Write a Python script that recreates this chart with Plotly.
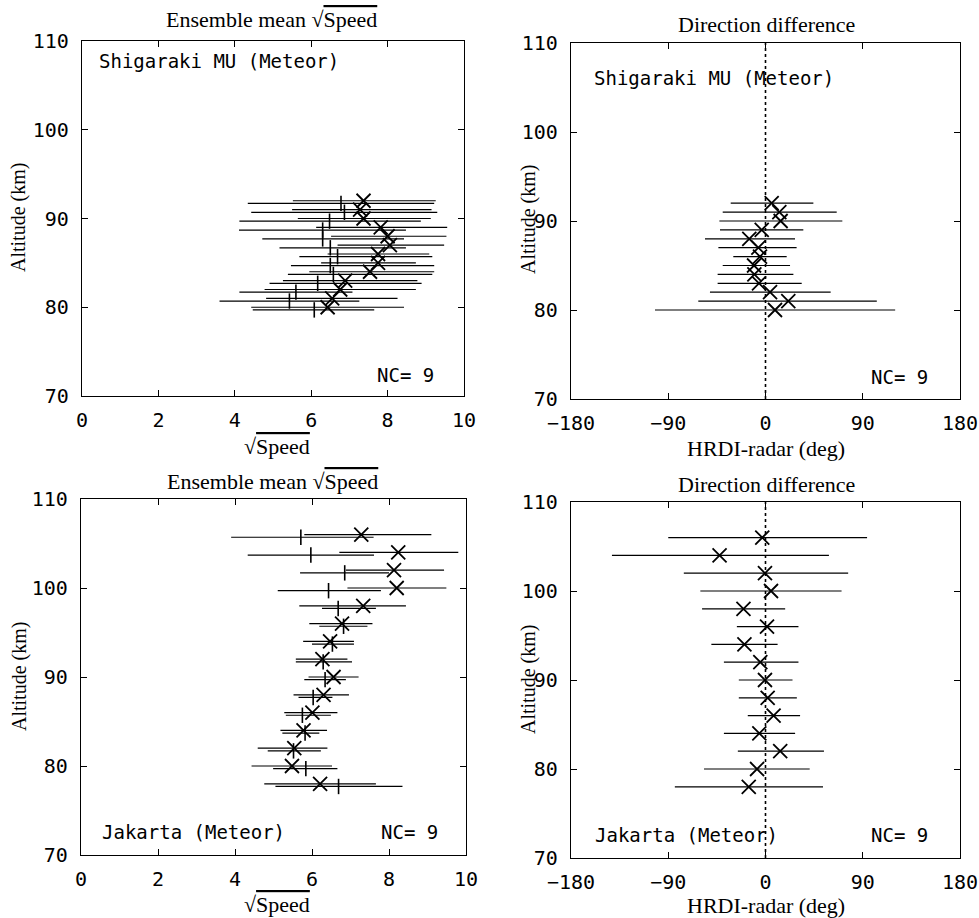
import plotly.graph_objects as go

W, H = 979, 918

# ---------------- data ----------------
# Shigaraki MU (Meteor) : sqrt(speed)
shi_alt = [92, 91, 90, 89, 88, 87, 86, 85, 84, 83, 82, 81, 80]
shi_x_mean = [7.37, 7.28, 7.37, 7.82, 8.00, 8.06, 7.75, 7.75, 7.54, 6.89, 6.76, 6.55, 6.43]
shi_x_lo = [5.52, 5.50, 5.65, 6.13, 6.52, 6.69, 6.43, 6.26, 5.95, 5.26, 4.78, 4.82, 4.43]
shi_x_hi = [9.26, 9.15, 9.13, 9.56, 9.54, 9.48, 9.09, 8.74, 9.22, 8.78, 8.74, 8.26, 8.43]
shi_t_mean = [6.78, 6.87, 6.48, 6.30, 6.30, 6.50, 6.69, 6.50, 6.58, 6.17, 5.60, 5.43, 6.08]
shi_t_lo = [4.34, 4.43, 4.12, 4.11, 4.72, 5.17, 5.69, 5.47, 5.39, 4.91, 4.12, 3.60, 4.47]
shi_t_hi = [9.22, 9.30, 8.87, 8.48, 8.43, 8.48, 9.17, 9.22, 9.17, 8.89, 7.08, 7.26, 7.65]

# Shigaraki MU (Meteor) : direction difference
shi_dir = [5.7, 12.8, 14.0, -3.5, -15.0, -6.6, -5.1, -10.6, -10.3, -6.0, 4.2, 21.1, 8.8]
shi_dir_lo = [-32.2, -39.6, -42.7, -42.1, -56.0, -43.6, -29.8, -39.6, -44.3, -44.3, -51.4, -62.2, -102.3]
shi_dir_hi = [44.3, 65.9, 71.1, 35.0, 27.3, 28.8, 19.6, 22.7, 25.8, 33.5, 60.3, 103.0, 120.0]

# Jakarta (Meteor) : sqrt(speed)
jak_alt = [106, 104, 102, 100, 98, 96, 94, 92, 90, 88, 86, 84, 82, 80, 78]
jak_x_mean = [7.28, 8.24, 8.13, 8.20, 7.33, 6.78, 6.47, 6.27, 6.56, 6.30, 6.01, 5.78, 5.54, 5.48, 6.21]
jak_x_lo = [5.80, 6.71, 6.88, 6.92, 5.67, 5.93, 5.77, 5.58, 5.91, 5.52, 5.28, 5.18, 4.59, 4.43, 4.76]
jak_x_hi = [9.10, 9.80, 9.43, 9.49, 8.44, 7.57, 7.09, 6.92, 7.21, 6.96, 6.66, 6.39, 6.40, 6.52, 7.66]
jak_t_mean = [5.71, 5.97, 6.85, 6.43, 6.68, 6.82, 6.53, 6.29, 6.34, 6.03, 5.75, 5.82, 5.52, 5.84, 6.69]
jak_t_lo = [3.90, 4.33, 5.69, 5.11, 6.26, 6.19, 6.00, 5.58, 5.80, 5.65, 5.32, 5.23, 4.85, 4.99, 5.05]
jak_t_hi = [7.60, 7.61, 8.00, 7.79, 7.66, 7.44, 7.09, 7.04, 6.88, 6.53, 6.49, 6.19, 6.23, 6.66, 8.35]

# Jakarta (Meteor) : direction difference
jak_dir = [-3.0, -42.5, -0.5, 5.1, -20.4, 1.4, -19.5, -4.8, -0.5, 2.0, 7.5, -5.7, 13.6, -7.8, -15.5]
jak_dir_lo = [-90.0, -142.1, -75.6, -60.3, -58.7, -26.5, -50.1, -38.5, -24.7, -24.7, -16.4, -38.5, -25.6, -56.9, -83.9]
jak_dir_hi = [94.0, 58.7, 76.5, 70.4, 18.2, 30.5, 11.2, 30.5, 25.0, 29.0, 32.0, 27.4, 54.1, 40.9, 53.2]

speed_ticks = [0, 2, 4, 6, 8, 10]
speed_ticktext = ["0", "2", "4", "6", "8", "10"]
dir_ticks = [-180, -90, 0, 90, 180]
dir_ticktext = ["\u2212180", "\u221290", "0", "90", "180"]
alt_ticks = [70, 80, 90, 100, 110]
alt_ticktext = ["70", "80", "90", "100", "110"]

# ---------------- helpers ----------------
def px(x):
    return x / W

def py(y):
    return 1 - y / H

MONO = "DejaVu Sans Mono"
SERIF = "Liberation Serif"
SQ = "\u221a<span style='text-decoration:overline'>Speed</span>"

def err(mean, lo, hi):
    return dict(type="data", symmetric=False,
                array=[h - m for m, h in zip(mean, hi)],
                arrayminus=[m - l for m, l in zip(mean, lo)],
                width=0, thickness=1.2, color="black")

def xmark(x, y, xa, ya, e):
    return go.Scatter(x=x, y=y, xaxis=xa, yaxis=ya, mode="markers",
                      marker=dict(symbol="x-thin", size=14, color="black",
                                  line=dict(width=1.8, color="black")),
                      error_x=e, showlegend=False, hoverinfo="x+y")

def tmark(x, y, xa, ya, e):
    return go.Scatter(x=x, y=y, xaxis=xa, yaxis=ya, mode="markers",
                      marker=dict(symbol="line-ns", size=11, color="black",
                                  line=dict(width=1.6, color="black")),
                      error_x=e, showlegend=False, hoverinfo="x+y")

off = 0.3  # small vertical offset so the two bars of a level do not coincide

fig = go.Figure()
# top-left
fig.add_trace(tmark(shi_t_mean, [a - off for a in shi_alt], "x", "y", err(shi_t_mean, shi_t_lo, shi_t_hi)))
fig.add_trace(xmark(shi_x_mean, shi_alt, "x", "y", err(shi_x_mean, shi_x_lo, shi_x_hi)))
# top-right
fig.add_trace(xmark(shi_dir, shi_alt, "x2", "y2", err(shi_dir, shi_dir_lo, shi_dir_hi)))
# bottom-left
fig.add_trace(tmark(jak_t_mean, [a - off for a in jak_alt], "x3", "y3", err(jak_t_mean, jak_t_lo, jak_t_hi)))
fig.add_trace(xmark(jak_x_mean, jak_alt, "x3", "y3", err(jak_x_mean, jak_x_lo, jak_x_hi)))
# bottom-right
fig.add_trace(xmark(jak_dir, jak_alt, "x4", "y4", err(jak_dir, jak_dir_lo, jak_dir_hi)))

def xax(dom, anchor, rng, tv, tt):
    return dict(domain=dom, anchor=anchor, range=rng, tickvals=tv, ticktext=tt,
                showline=True, linecolor="black", linewidth=1.3, mirror="ticks",
                ticks="inside", ticklen=6, tickwidth=1.2, tickcolor="black",
                showgrid=False, zeroline=False, ticklabelstandoff=6, automargin=False,
                ticklabeloverflow="allow",
                tickfont=dict(family=MONO, size=20, color="black"))

def yax(dom, anchor):
    return dict(domain=dom, anchor=anchor, range=[70, 110], tickvals=alt_ticks, ticktext=alt_ticktext,
                showline=True, linecolor="black", linewidth=1.3, mirror="ticks",
                ticks="inside", ticklen=6, tickwidth=1.2, tickcolor="black",
                showgrid=False, zeroline=False, ticklabelstandoff=8, automargin=False,
                ticklabeloverflow="allow",
                tickfont=dict(family=MONO, size=20, color="black"))

xl_top = [px(82), px(464)]
xr = [px(571), px(960)]
xl_bot = [px(81), px(466)]
y_tl = [py(396), py(41)]
y_tr = [py(399), py(43)]
y_bl = [py(855), py(499)]
y_br = [py(858), py(502)]

fig.update_layout(
    width=W, height=H, margin=dict(l=0, r=0, t=0, b=0, autoexpand=False),
    paper_bgcolor="white", plot_bgcolor="white", showlegend=False,
    xaxis=xax(xl_top, "y", [0, 10], speed_ticks, speed_ticktext),
    yaxis=yax(y_tl, "x"),
    xaxis2=xax(xr, "y2", [-180, 180], dir_ticks, dir_ticktext),
    yaxis2=yax(y_tr, "x2"),
    xaxis3=xax(xl_bot, "y3", [0, 10], speed_ticks, speed_ticktext),
    yaxis3=yax(y_bl, "x3"),
    xaxis4=xax(xr, "y4", [-180, 180], dir_ticks, dir_ticktext),
    yaxis4=yax(y_br, "x4"),
)

for xa, ya in [("x2", "y2 domain"), ("x4", "y4 domain")]:
    fig.add_shape(type="line", xref=xa, yref=ya, x0=0, x1=0, y0=0, y1=1,
                  line=dict(color="black", width=1.6, dash="dot"))

ann = []
def text(x, y, s, family, size, xanchor="center", angle=0):
    ann.append(dict(x=px(x), y=py(y), xref="paper", yref="paper", text=s, showarrow=False,
                    xanchor=xanchor, yanchor="middle", textangle=angle,
                    font=dict(family=family, size=size, color="black")))

# panel titles
text(271, 19, "Ensemble mean " + SQ, SERIF, 22)
text(766, 25, "Direction difference", SERIF, 22)
text(272, 481, "Ensemble mean " + SQ, SERIF, 22)
text(766, 484, "Direction difference", SERIF, 22)
# x-axis titles
text(277, 446, SQ, SERIF, 22)
text(766, 448, "HRDI-radar (deg)", SERIF, 22)
text(277, 904, SQ, SERIF, 22)
text(766, 905, "HRDI-radar (deg)", SERIF, 22)
# y-axis titles
text(19, 218, "Altitude (km)", SERIF, 20, angle=-90)
text(528, 220, "Altitude (km)", SERIF, 20, angle=-90)
text(19, 677, "Altitude (km)", SERIF, 20, angle=-90)
text(528, 680, "Altitude (km)", SERIF, 20, angle=-90)
# panel labels
text(97, 61, "Shigaraki MU (Meteor)", MONO, 19, xanchor="left")
text(592, 78, "Shigaraki MU (Meteor)", MONO, 19, xanchor="left")
text(436, 375, "NC= 9", MONO, 19, xanchor="right")
text(930, 377, "NC= 9", MONO, 19, xanchor="right")
text(100, 832, "Jakarta (Meteor)", MONO, 19, xanchor="left")
text(440, 832, "NC= 9", MONO, 19, xanchor="right")
text(593, 835, "Jakarta (Meteor)", MONO, 19, xanchor="left")
text(930, 835, "NC= 9", MONO, 19, xanchor="right")

fig.update_layout(annotations=ann)
# remove the page's default body margin so the 979x918 figure fills the window exactly
fig.write_html("out.html",
               config={"displayModeBar": False},
               post_script="document.body.style.margin='0px';"
                           "document.documentElement.style.overflow='hidden';")
